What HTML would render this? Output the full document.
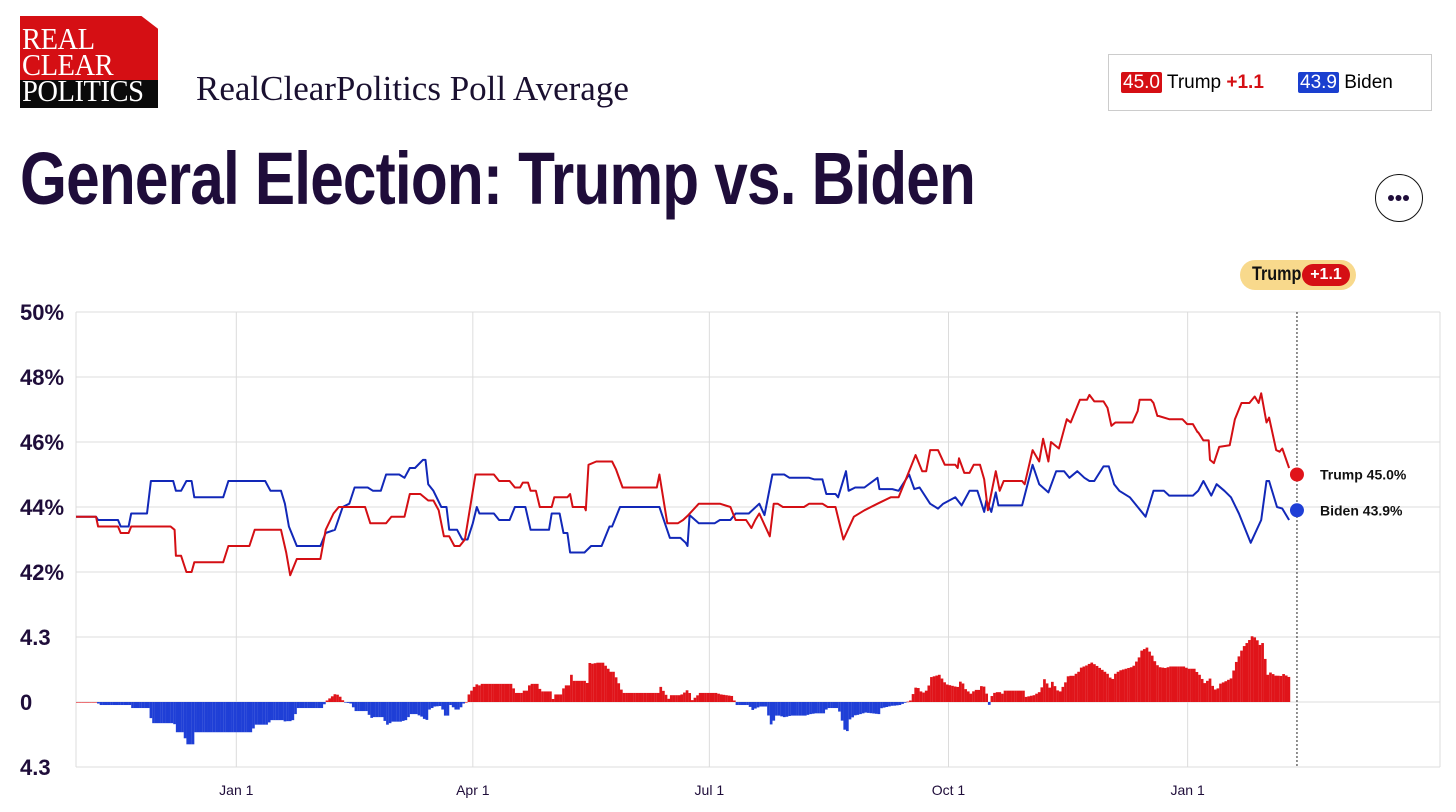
<!DOCTYPE html>
<html><head><meta charset="utf-8">
<style>
html,body{margin:0;padding:0;background:#fff;width:1456px;height:812px;overflow:hidden;position:relative;font-family:"Liberation Sans",sans-serif}
.abs{position:absolute}
</style></head>
<body>
<div class="abs" style="left:20px;top:16px;width:138px;height:92px;">
  <div class="abs" style="left:0;top:0;width:138px;height:64px;background:#d50f14;clip-path:polygon(0 0,88% 0,100% 20%,100% 100%,0 100%);"></div>
  <div class="abs" style="left:0;top:64px;width:138px;height:28px;background:#0a0a0a;"></div>
  <div class="abs" style="left:2px;top:10px;color:#fff;font-family:'Liberation Serif',serif;font-size:31px;line-height:26px;transform:scaleX(0.92);transform-origin:left top;letter-spacing:-0.5px">REAL<br>CLEAR<br>POLITICS</div>
</div>
<div class="abs" style="left:196px;top:69px;font-family:'Liberation Serif',serif;font-size:35px;color:#1a1030;white-space:nowrap">RealClearPolitics Poll Average</div>
<div class="abs" style="left:20px;top:136px;font-weight:bold;font-size:74px;color:#1f0d3a;white-space:nowrap;transform:scaleX(0.815);transform-origin:left top;letter-spacing:-1px">General Election: Trump vs. Biden</div>

<div class="abs" style="left:1108px;top:54px;width:324px;height:57px;border:1px solid #ccc;box-sizing:border-box;font-size:19px;">
  <div class="abs" style="left:12px;top:17px;white-space:nowrap">
    <span style="background:#d50f14;color:#fff;padding:0 2px;border-radius:2px">45.0</span> Trump <span style="color:#d50f14;font-weight:bold">+1.1</span></div>
  <div class="abs" style="left:189px;top:17px;white-space:nowrap">
    <span style="background:#1a3fcf;color:#fff;padding:0 2px;border-radius:2px">43.9</span> Biden</div>
</div>
<div class="abs" style="left:1375px;top:174px;width:48px;height:48px;border:1.5px solid #111;border-radius:50%;box-sizing:border-box;">
  <svg width="45" height="45" style="position:absolute;left:0;top:0"><circle cx="15" cy="23" r="3" fill="#1f0d3a"/><circle cx="22.5" cy="23" r="3" fill="#1f0d3a"/><circle cx="30" cy="23" r="3" fill="#1f0d3a"/></svg>
</div>
<div class="abs" style="left:1240px;top:260px;width:116px;height:30px;background:#f8d98c;border-radius:15px;">
  <span class="abs" style="left:12px;top:4px;font-weight:bold;font-size:19px;transform:scaleX(0.85);transform-origin:left top;color:#111">Trump</span>
  <span class="abs" style="left:62px;top:4px;width:48px;height:22px;background:#d50f14;color:#fff;border-radius:11px;font-weight:bold;font-size:16px;text-align:center;line-height:22px">+1.1</span>
</div>

<svg class="abs" style="left:0;top:0" width="1456" height="812" id="chart"></svg>

<script>
const days = [0,7.6,8.4,16,17,20,21,27,28.5,37,38,40,42,44,45,56,58,72,74,78,79.5,81,84,93,95,98.5,101.5,104,106,111,113,116,118,123,125,127,129,132,133,134,136,139,141,142,145,147,149,151,152.5,153.5,159,161,165,167,171,173,180,181,184,185.5,187,188,193.5,196,200,203,204,207,222,226,230,232,232.7,233.5,237,243,245,249,251,256,260,262,265,269.5,271.5,279,281,284,285.5,289,290,293,294,296.5,300,305,305.7,310.6,313,317,319,321,325,328,330,334.6,337,340,343,345.6,346.4,348.3,350,351,360,364,366.5,370,373,376,378,381,383.7,385.6,387.5,391,393,395,397,401,407,410,414,416,425,427,429,432,434,437,439.5,442.5,447,451,453,454,457,459,461.6];
const biden = [43.7,43.7,43.6,43.6,43.4,43.4,43.8,43.8,44.8,44.8,44.5,44.5,44.8,44.8,44.3,44.3,44.8,44.8,44.5,44.5,44.1,43.4,42.8,42.8,43.2,43.3,44.0,44.1,44.6,44.6,44.5,44.5,45.0,45.0,44.9,45.2,45.2,45.45,45.45,44.7,44.5,44.0,44.0,43.3,43.3,43.0,43.0,43.5,44.0,43.8,43.8,43.6,43.6,44.0,44.0,43.3,43.3,43.8,43.8,43.2,43.2,42.6,42.6,42.8,42.8,43.4,43.4,44.0,44.0,43.05,43.05,42.9,42.8,43.75,43.5,43.5,43.6,43.6,43.8,43.8,44.1,43.75,45.0,45.0,44.9,44.9,44.85,44.85,44.4,44.4,44.3,45.1,44.5,44.6,44.6,44.9,44.55,44.55,44.5,45.0,44.55,44.6,44.1,43.95,44.1,44.3,44.05,44.5,44.5,43.85,44.2,43.85,44.45,44.05,44.05,45.3,44.7,44.45,45.1,45.1,44.9,45.1,44.9,44.8,44.8,45.25,45.25,44.7,44.5,44.3,43.7,44.5,44.5,44.35,44.35,44.5,44.8,44.35,44.7,44.5,44.3,43.8,42.9,43.6,44.8,44.8,44.0,43.95,43.6];
const tDays = [0,7.6,8.4,16,17,20,21,36,37.5,38,40,42,44,45,56,58,66,68,78,80,81.5,84,93,95,98,100,110,112,118,120,125,127,131,134,136,138,140,142,144,146,148,152,159,161,165,167,169,170,172,173,175,176.5,181,182,187,188,189,193.5,194,195,198,204,205.5,208,221,222,225,229,231,233,237,245,249,251,255,257,258.5,260,264,265.5,267,269,277,279,284,286,289,292,296,300,305,310,313,317,319.5,322,323.5,325,328,330.6,334.6,335.5,336,338,340,341.6,344,345.6,347,350,351.5,353,360,361,364,366.5,368,370,371,374,377,378.5,382,384.7,385.6,387.5,391,392.5,394,395.5,400,402,404,404.7,409,410,411.5,412,416,421,422.8,425,426.8,427,429,431,431.5,433,435,439,441,443.5,446.5,448.5,450,451,453,454,456.7,458,459,461.6];
const trump = [43.7,43.7,43.4,43.4,43.2,43.2,43.4,43.4,43.3,42.5,42.5,42.0,42.0,42.3,42.3,42.8,42.8,43.3,43.3,42.6,41.9,42.4,42.4,43.3,43.8,44.0,44.0,43.5,43.5,43.7,43.7,44.4,44.4,44.2,44.2,43.9,43.1,43.1,42.8,42.8,43.0,45.0,45.0,44.8,44.8,44.6,44.6,44.75,44.75,44.5,44.5,44.0,44.0,44.3,44.3,44.4,44.0,44.0,43.9,45.3,45.4,45.4,45.15,44.6,44.6,45.0,43.5,43.5,43.6,43.75,44.1,44.1,44.0,43.6,43.6,43.35,43.6,43.8,43.1,44.1,44.1,44.0,44.0,44.1,44.1,44.0,44.0,43.0,43.7,43.9,44.1,44.3,44.3,45.1,45.6,45.1,45.1,45.75,45.75,45.3,45.3,45.2,45.5,45.05,45.05,45.3,45.3,44.85,43.9,45.1,44.5,44.8,44.8,44.7,45.75,45.4,46.1,45.4,46.0,45.8,46.7,46.6,47.3,47.3,47.45,47.25,47.25,47.05,46.5,46.6,46.6,46.6,46.95,47.3,47.3,47.2,46.8,46.8,46.7,46.7,46.55,46.55,46.3,46.3,46.05,46.05,45.45,45.35,45.85,45.9,46.7,47.2,47.2,47.4,47.2,47.5,46.6,46.75,45.75,45.7,45.8,45.2];
const latestDay = 464.6;
const latestTrump = 45.0;
const latestBiden = 43.9;
const xTickLabels = ["Jan 1","Apr 1","Jul 1","Oct 1","Jan 1"];
const xTickDays = [61,151,241,332,423];
const yTickValues = [50,48,46,44,42];
const spreadTickLabels = ["4.3","0","4.3"];
const spreadTickValues = [4.3,0,-4.3];

const NS="http://www.w3.org/2000/svg";
const svg=document.getElementById('chart');
const L=76,R=1440,T=312,B=767;
const xS=d=>L+d*2.628;
const yS=v=>507-(v-44)*32.5;
const sS=v=>702-v*(65/4.3);
function mk(tag,attrs,parent){const e=document.createElementNS(NS,tag);for(const k in attrs)e.setAttribute(k,attrs[k]);(parent||svg).appendChild(e);return e;}
function stepAt(ds,vs,d){let v=vs[0];for(let i=0;i<ds.length;i++){if(ds[i]<=d)v=vs[i];else{
 const a=ds[i-1],b=ds[i];return vs[i-1]+(vs[i]-vs[i-1])*(d-a)/(b-a);} }return v;}

const grid=mk('g',{});


yTickValues.forEach(v=>{mk('line',{x1:L,x2:R,y1:yS(v),y2:yS(v),stroke:'#dcdcdc','stroke-width':1},grid);
 const t=mk('text',{x:20,y:yS(v)+8,'font-size':22,'font-weight':'bold',fill:'#1f0d3a','font-family':'Liberation Sans, sans-serif'});
 
 
 t.textContent=v+'%';});
spreadTickValues.forEach((v,i)=>{mk('line',{x1:L,x2:R,y1:sS(v),y2:sS(v),stroke:'#dcdcdc','stroke-width':1},grid);
 const t=mk('text',{x:20,y:sS(v)+8,'font-size':22,'font-weight':'bold',fill:'#1f0d3a','font-family':'Liberation Sans, sans-serif'});
 
 
 t.textContent=spreadTickLabels[i];});
mk('line',{x1:L,x2:L,y1:T,y2:B,stroke:'#dcdcdc'},grid);
mk('line',{x1:R,x2:R,y1:T,y2:B,stroke:'#dcdcdc'},grid);
xTickDays.forEach((d,i)=>{mk('line',{x1:xS(d),x2:xS(d),y1:T,y2:B,stroke:'#dcdcdc'},grid);
 const t=mk('text',{x:xS(d),y:795,'font-size':14,fill:'#1f0d3a','text-anchor':'middle','font-family':'Liberation Sans, sans-serif'});
 
 
 t.textContent=xTickLabels[i];});
const dl=mk('line',{x1:xS(latestDay),x2:xS(latestDay),y1:T,y2:B,stroke:'#222','stroke-dasharray':'2,2'});



const bars=mk('g',{});


const lastD=Math.min(days[days.length-1],tDays[tDays.length-1]);
for(let d=0;d<=lastD;d+=1){
 const s=stepAt(tDays,trump,d)-stepAt(days,biden,d);
 const y0=sS(0),y1=sS(s);
 const r=mk('rect',{x:xS(d),y:Math.min(y0,y1),width:2.7,height:Math.max(0.6,Math.abs(y1-y0)),fill:s>=0?'#e0141a':'#1f3fd6'},bars);
 
 
}

const bl=mk('path',{d:days.map((d,i)=>(i?'L':'M')+xS(d).toFixed(1)+','+yS(biden[i]).toFixed(1)).join(''),fill:'none',stroke:'#1228b8','stroke-width':2,'stroke-linejoin':'round'});


const tl=mk('path',{d:tDays.map((d,i)=>(i?'L':'M')+xS(d).toFixed(1)+','+yS(trump[i]).toFixed(1)).join(''),fill:'none',stroke:'#d40f14','stroke-width':2,'stroke-linejoin':'round'});



const td=mk('circle',{cx:xS(latestDay),cy:yS(latestTrump),r:7,fill:'#e0141a'});


const bd=mk('circle',{cx:xS(latestDay),cy:yS(latestBiden),r:7,fill:'#1f3fd6'});


const tt=mk('text',{x:1320,y:yS(latestTrump)+5,'font-size':14,'font-weight':'bold',fill:'#111','font-family':'Liberation Sans, sans-serif'});


tt.textContent='Trump '+latestTrump.toFixed(1)+'%';
const bt=mk('text',{x:1320,y:yS(latestBiden)+5,'font-size':14,'font-weight':'bold',fill:'#111','font-family':'Liberation Sans, sans-serif'});


bt.textContent='Biden '+latestBiden.toFixed(1)+'%';
</script>
</body></html>
